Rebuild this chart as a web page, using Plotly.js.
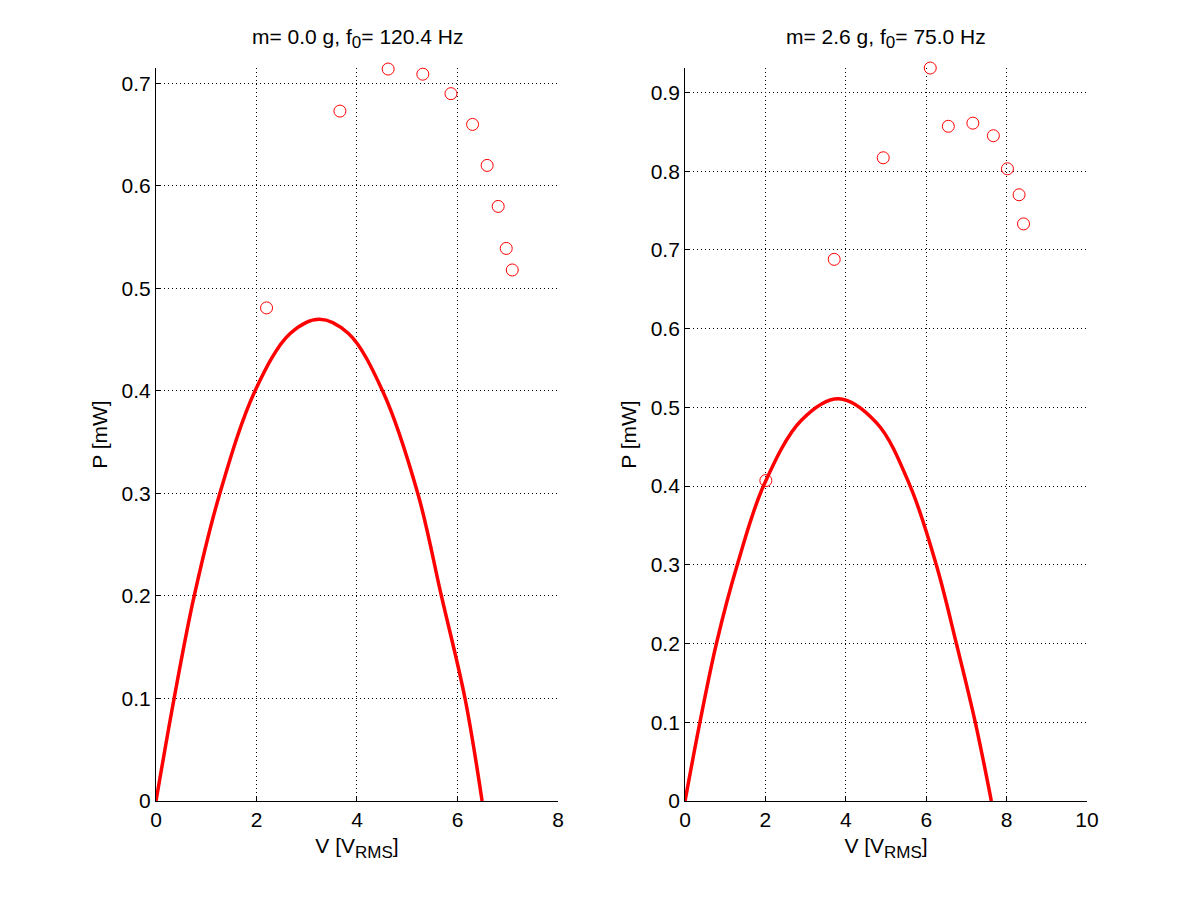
<!DOCTYPE html>
<html>
<head>
<meta charset="utf-8">
<script src="https://cdn.plot.ly/plotly-3.0.1.min.js"></script>
<style>
  html, body { margin: 0; padding: 0; background: #fff; }
  #plot { width: 1201px; height: 901px; }
</style>
</head>
<body>
<div id="plot"></div>
<script>
// measured points, m = 0.0 g
const vMeasA = [2.20, 3.66, 4.62, 5.31, 5.87, 6.30, 6.59, 6.81, 6.97, 7.09]
const pMeasA = [0.481, 0.673, 0.714, 0.709, 0.690, 0.660, 0.620, 0.580, 0.539, 0.518]

// fitted curve, m = 0.0 g
const vFitA = [0, 0.36, 0.76, 1.27, 1.97, 2.67, 3.25, 3.83, 4.51, 5.21, 5.68, 6.15, 6.49]
const pFitA = [0, 0.100, 0.200, 0.300, 0.400, 0.456, 0.470, 0.456, 0.400, 0.300, 0.200, 0.100, 0]

// measured points, m = 2.6 g
const vMeasB = [2.01, 3.71, 4.93, 6.10, 6.55, 7.16, 7.67, 8.02, 8.31, 8.42]
const pMeasB = [0.407, 0.688, 0.817, 0.931, 0.857, 0.861, 0.845, 0.803, 0.770, 0.733]

// fitted curve, m = 2.6 g
const vFitB = [0, 0.37, 0.78, 1.30, 1.95, 2.90, 3.82, 4.77, 5.60, 6.25, 6.75, 7.22, 7.62]
const pFitB = [0, 0.100, 0.200, 0.300, 0.400, 0.484, 0.511, 0.480, 0.400, 0.300, 0.200, 0.100, 0]

const sub = 'font-size:17px'
const titleA = 'm= 0.0 g, f<sub><span style="' + sub + '">0</span></sub>= 120.4 Hz'
const titleB = 'm= 2.6 g, f<sub><span style="' + sub + '">0</span></sub>= 75.0 Hz'
const xTitle = 'V [V<sub><span style="' + sub + '">RMS</span></sub>]'
const yTitle = 'P [mW]'

const red = '#ff0000'
const font = {family: '"Liberation Sans", Arial, Helvetica, sans-serif', size: 21, color: '#000'}

function axis(extra) {
	const base = {
		showline: true,
		linecolor: '#000',
		linewidth: 1,
		mirror: false,
		zeroline: false,
		showgrid: true,
		gridcolor: '#000',
		gridwidth: 1,
		griddash: '1px,3px',
		ticks: 'inside',
		ticklen: 5,
		tickcolor: '#000',
		tickfont: font,
		fixedrange: true
	}
	return Object.assign(base, extra)
}

const data = [
	{x: vFitA, y: pFitA, xaxis: 'x', yaxis: 'y', mode: 'lines', type: 'scatter',
	 line: {color: red, width: 3.5, shape: 'spline', smoothing: 1}},
	{x: vMeasA, y: pMeasA, xaxis: 'x', yaxis: 'y', mode: 'markers', type: 'scatter', cliponaxis: false,
	 marker: {symbol: 'circle-open', size: 12, color: red, line: {width: 1, color: red}}},
	{x: vFitB, y: pFitB, xaxis: 'x2', yaxis: 'y2', mode: 'lines', type: 'scatter',
	 line: {color: red, width: 3.5, shape: 'spline', smoothing: 1}},
	{x: vMeasB, y: pMeasB, xaxis: 'x2', yaxis: 'y2', mode: 'markers', type: 'scatter', cliponaxis: false,
	 marker: {symbol: 'circle-open', size: 12, color: red, line: {width: 1, color: red}}}
]

const layout = {
	width: 1201,
	height: 901,
	margin: {l: 0, r: 0, t: 0, b: 0},
	paper_bgcolor: '#fff',
	plot_bgcolor: '#fff',
	showlegend: false,
	font: font,
	xaxis: axis({domain: [0.1299, 0.4646], range: [0, 8], dtick: 2, tick0: 0, anchor: 'y',
		title: {text: xTitle, font: font, standoff: 8}}),
	yaxis: axis({domain: [0.111, 0.9245], range: [0, 0.715], dtick: 0.1, tick0: 0, anchor: 'x',
		title: {text: yTitle, font: font, standoff: 8}}),
	xaxis2: axis({domain: [0.5704, 0.9051], range: [0, 10], dtick: 2, tick0: 0, anchor: 'y2',
		title: {text: xTitle, font: font, standoff: 8}}),
	yaxis2: axis({domain: [0.111, 0.9245], range: [0, 0.931], dtick: 0.1, tick0: 0, anchor: 'x2',
		title: {text: yTitle, font: font, standoff: 8}}),
	annotations: [
		{text: titleA, xref: 'paper', yref: 'paper', x: 0.2973, y: 0.9245, xanchor: 'center', yanchor: 'bottom',
		 yshift: 14, showarrow: false, font: font},
		{text: titleB, xref: 'paper', yref: 'paper', x: 0.7377, y: 0.9245, xanchor: 'center', yanchor: 'bottom',
		 yshift: 14, showarrow: false, font: font}
	]
}

Plotly.newPlot('plot', data, layout, {displayModeBar: false, staticPlot: true})
</script>
</body>
</html>
